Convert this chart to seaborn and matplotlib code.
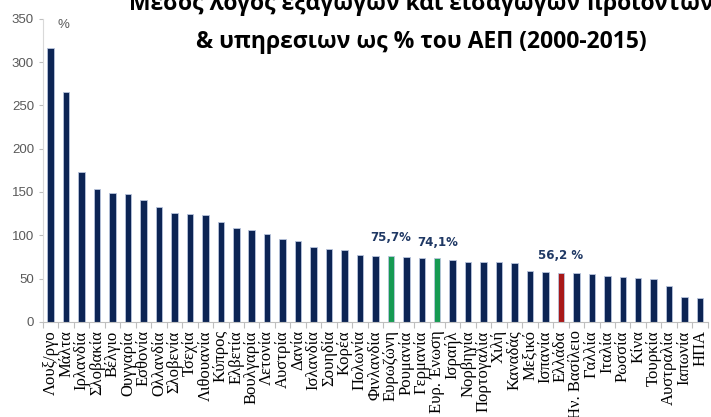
import matplotlib
matplotlib.use("Agg")
import matplotlib.pyplot as plt
import seaborn as sns

# Δεδομένα
xwres = ["Λουξ/ργο", "Μάλτα", "Ιρλανδία", "Σλοβακία", "Βέλγιο", "Ουγγαρία",
         "Εσθονία", "Ολλανδία", "Σλοβενία", "Τσεχία", "Λιθουανία", "Κύπρος",
         "Ελβετία", "Βουλγαρία", "Λετονία", "Αυστρία", "Δανία", "Ισλανδία",
         "Σουηδία", "Κορέα", "Πολωνία", "Φινλανδία", "Ευρωζώνη", "Ρουμανία",
         "Γερμανία", "Ευρ. Ένωση", "Ισραήλ", "Νορβηγία", "Πορτογαλία", "Χιλή",
         "Καναδάς", "Μεξικό", "Ισπανία", "Ελλάδα", "Ην. Βασίλειο", "Γαλλία",
         "Ιταλία", "Ρωσσία", "Κίνα", "Τουρκία", "Αυστραλία", "Ιαπωνία", "ΗΠΑ"]
times = [316, 265.5, 173.5, 153, 149, 147.5, 141, 132.5, 125.5, 124.5, 123.5, 115.5,
         109, 105.7, 101, 95.8, 94, 86.3, 84.3, 83.5, 77.7, 76.2, 75.7, 75,
         74.2, 74.1, 71.2, 69.3, 69, 69, 68, 58.6, 57.4, 56.2, 56.5, 55.5,
         53, 51.6, 50.8, 49.3, 42, 28.5, 28]
etiketes = {"Ευρωζώνη": "75,7%", "Ευρ. Ένωση": "74,1%", "Ελλάδα": "56,2 %"}

navy = "#002060"
xrwmata = {c: navy for c in xwres}
xrwmata["Ευρωζώνη"] = "#00B050"
xrwmata["Ευρ. Ένωση"] = "#00B050"
xrwmata["Ελλάδα"] = "#C00000"

fig = plt.figure(figsize=(7.11, 4.17), dpi=100)
ax = fig.add_axes([0.0605, 0.228, 0.935, 0.727])

sns.barplot(x=xwres, y=times, hue=xwres, palette=xrwmata, legend=False,
            width=0.42, edgecolor="#B8C4DC", linewidth=0.6, ax=ax)

ax.set_xlim(-0.5, len(xwres) - 0.5)
ax.set_ylim(0, 350)
ax.set_yticks(range(0, 351, 50))
ax.tick_params(axis="y", labelsize=9.5, labelcolor="#595959", color="#BFBFBF",
               length=3, width=0.8)
for t in ax.get_yticklabels():
    t.set_family(["Liberation Sans", "DejaVu Sans"])

# ετικέτες χωρών κάθετα, ticks ανάμεσα στις κατηγορίες
ax.set_xticks(range(len(xwres)))
ax.set_xticklabels(xwres, rotation=90, fontsize=12,
                   family=["Liberation Serif", "DejaVu Serif"], color="#000000")
ax.tick_params(axis="x", length=0, pad=6)
ax.set_xticks([i - 0.5 for i in range(len(xwres) + 1)], minor=True)
ax.tick_params(axis="x", which="minor", length=4, color="#BFBFBF", width=0.8)

for s in ["top", "right"]:
    ax.spines[s].set_visible(False)
ax.spines["left"].set_color("#D9D9D9")
ax.spines["bottom"].set_color("#BFBFBF")

# τιμές πάνω από τις επιλεγμένες μπάρες
offs = {"Ευρωζώνη": 9, "Ευρ. Ένωση": 6, "Ελλάδα": 8}
for c, lab in etiketes.items():
    i = xwres.index(c)
    ax.annotate(lab, (i, times[i]), xytext=(0, offs[c]), textcoords="offset points",
                ha="center", va="bottom", fontsize=8.5, fontweight="bold",
                color="#1F3864", family=["Liberation Sans Narrow", "DejaVu Sans"])

ax.text(0.45, 343, "%", ha="left", va="center", fontsize=9.5, color="#595959",
        family=["Liberation Sans", "DejaVu Sans"])

# ο τίτλος κόβεται στο πάνω άκρο όπως στο πρωτότυπο
fig.text(0.592, 0.99, "Μεσος λογος εξαγωγων και εισαγωγων προιοντων",
         ha="center", va="center", fontsize=16.5, fontweight="bold",
         family=["Open Sans", "DejaVu Sans"])
fig.text(0.592, 0.90, "& υπηρεσιων ως % του ΑΕΠ (2000-2015)",
         ha="center", va="center", fontsize=16.5, fontweight="bold",
         family=["Open Sans", "DejaVu Sans"])

plt.savefig("out.png", dpi=100)
